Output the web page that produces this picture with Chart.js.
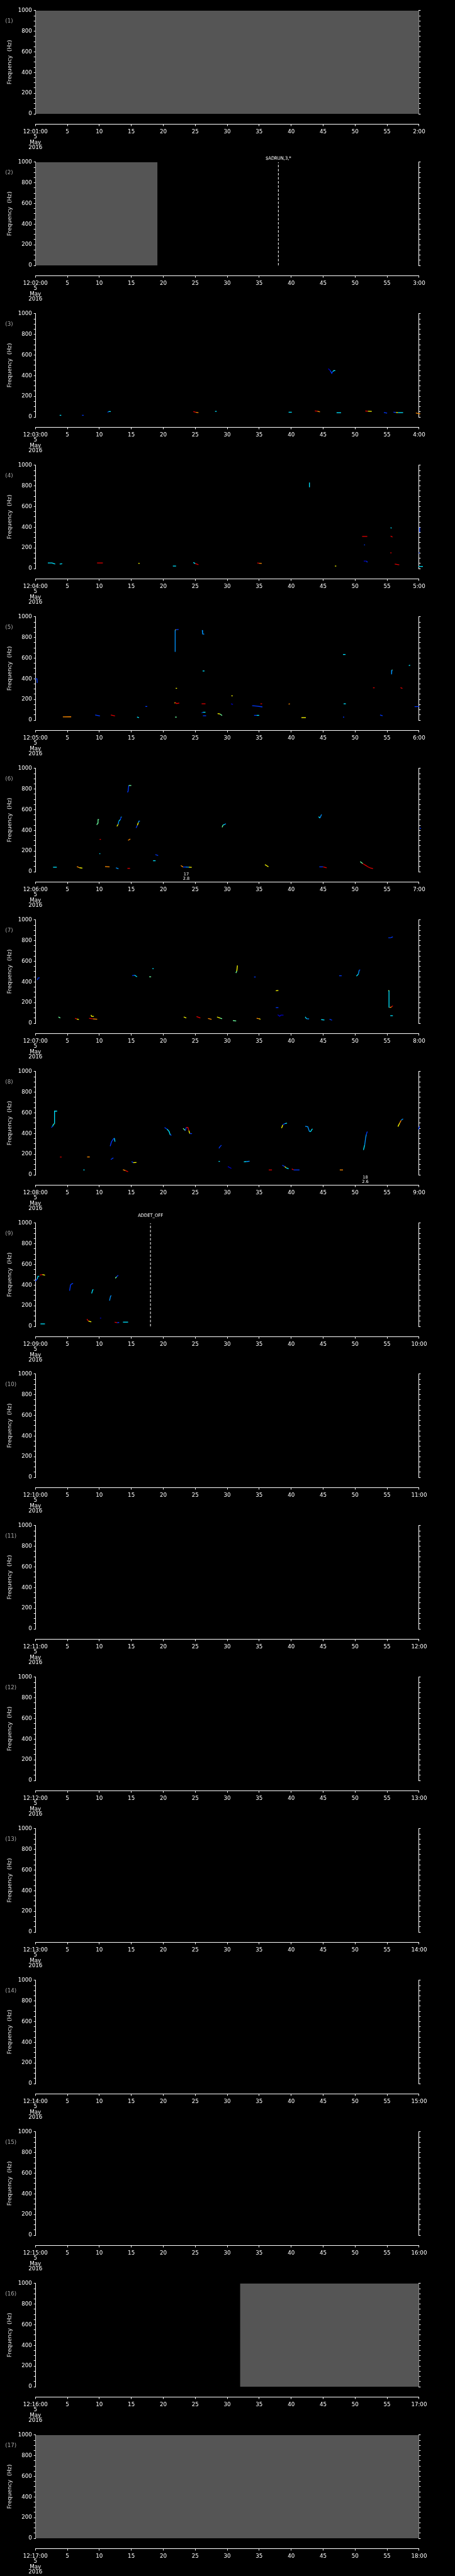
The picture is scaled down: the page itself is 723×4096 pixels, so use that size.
<!DOCTYPE html>
<html><head><meta charset="utf-8">
<script src="https://cdn.jsdelivr.net/npm/chart.js@4.4.1/dist/chart.umd.min.js"></script>
<style>
html,body{margin:0;padding:0;background:#000;width:723px;height:4096px;overflow:hidden}
.panel{position:absolute;left:0;width:723px;height:241px}
canvas{display:block}
</style></head><body>
<script>
// ---------------- DATA ----------------
const minuteTicks = [0,5,10,15,20,25,30,35,40,45,50,55,60];
const freqTicks = [0,50,100,150,200,250,300,350,400,450,500,550,600,650,700,750,800,850,900,950,1000];
const freqLabelled = [0,200,400,600,800,1000];
const startLabels = ['12:01:00','12:02:00','12:03:00','12:04:00','12:05:00','12:06:00','12:07:00','12:08:00','12:09:00','12:10:00','12:11:00','12:12:00','12:13:00','12:14:00','12:15:00','12:16:00','12:17:00'];
const endLabels = ['2:00','3:00','4:00','5:00','6:00','7:00','8:00','9:00','10:00','11:00','12:00','13:00','14:00','15:00','16:00','17:00','18:00'];
const dateLines = ['5','May','2016'];
const panelNumbers = ['(1)','(2)','(3)','(4)','(5)','(6)','(7)','(8)','(9)','(10)','(11)','(12)','(13)','(14)','(15)','(16)','(17)'];
const yTitle = 'Frequency  (Hz)';

// no-data spans: [panel, start minute, end minute]
const noDataSpans = [[1,0,60],[2,0,19.1],[16,32,60],[17,0,60]];
// dashed marker lines: [panel, minute, text]
const markerLines = [[2,38,'$ADRUN,3,*'],[9,18,'ADDET_OFF']];
// event labels: [panel, minute, line1, line2]
const eventLabels = [[6,23.6,'17','2.8'],[8,51.6,'18','2.6']];

// tracks: [colour codes per point, minute, Hz, minute, Hz, ...]
const tracks3 = [
 ['c',3.8,16,4.05,16],['b',7.3,16,7.55,16],['bcb',11.3,45,11.45,52,11.8,53],
 ['roc',24.7,52,25.1,45,25.5,42],['c',28.1,54,28.35,54],['cb',39.6,46,40.1,46],
 ['roy',43.7,59,44.1,56,44.5,50],['nbbccc',45.8,468,46.1,451,46.35,423,46.5,440,46.7,450,46.9,449],
 ['cb',47.1,41,47.8,41],['ryb',51.6,58,52.0,55,52.6,54],['b',54.5,43,55.0,37],
 ['bycc',56.0,47,56.4,44,56.7,42,57.5,42],['oc',59.5,39,60.2,29]
];
const tracks4 = [
 ['ccr',1.95,54,2.6,54,3.1,43],['cb',3.8,44,4.2,46],['ro',9.65,54,10.55,54],['y',16.1,50,16.3,50],
 ['cb',21.5,24,22.0,24],['crr',24.7,59,25.0,48,25.5,37],['rob',34.7,54,35.0,51,35.4,50],
 ['cy',42.86,834,42.86,788],['yc',46.85,24,47.05,24],['ro',51.1,311,51.9,311],['b',51.4,229,51.55,229],
 ['nbb',51.35,72,51.8,72,51.9,60],['c',55.55,397,55.7,390],['ry',55.55,315,55.85,305],['ro',55.5,152,55.7,152],
 ['rc',56.2,43,56.9,36],['b',60.1,397,60.1,354],['b',59.95,152,60.1,152],['cb',59.9,20,60.6,20]
];
const tracks5 = [
 ['bbb',0,400,0.25,400,0.3,360],['oc',4.3,31,5.6,32],['b',9.35,49,10.1,40],['rc',11.8,49,12.45,40],
 ['c',15.9,30,16.2,23],['b',17.2,132,17.5,132],['byss',22.4,878,21.95,875,21.86,872,21.86,661],
 ['y',21.95,308,22.15,308],['yrrb',21.8,162,21.85,172,22.1,160,22.5,165],['g',21.85,29,22.1,29],
 ['ssc',26.1,872,26.15,835,26.4,833],['c',26.15,476,26.45,476],['rb',26.0,158,26.6,158],
 ['bcc',26.0,70,26.2,76,26.6,76],['b',26.2,42,26.7,42],['ygc',28.5,63,28.9,58,29.2,44],
 ['y',30.65,235,30.85,235],['nr',30.6,158,30.9,152],['bbb',33.9,140,34.5,136,35.5,128],
 ['bcy',34.2,46,34.6,46,35.0,46],['r',35.2,158,35.45,158],['or',39.6,154,39.8,158],['yb',41.6,24,42.3,24],
 ['c',48.1,636,48.5,636],['cy',48.2,158,48.55,158],['b',48.1,29,48.3,29],['ry',52.8,313,53.05,313],
 ['gss',55.85,485,55.75,485,55.7,443],['b',53.9,50,54.3,42],['r',57.1,314,57.4,307],['c',58.4,528,58.6,533],
 ['bc',59.3,130,60.0,132]
];
const tracks6 = [
 ['cb',2.77,43,3.35,43],['oyb',6.5,50,6.9,38,7.35,34],['oy',10.9,50,11.6,46],['sc',12.6,37,13.0,28],
 ['ggg',9.6,453,9.75,470,9.8,505,9.95,505],['c',10.0,174,10.15,174],['r',10.05,313,10.25,313],
 ['yscbcc',12.75,439,12.95,460,13.05,490,13.3,505,13.4,530,13.5,530],['bbgg',14.4,769,14.5,780,14.6,835,15.0,835],
 ['oy',14.5,303,14.85,317],['rb',14.4,32,14.8,32],['byssb',15.75,424,15.95,450,16.1,475,16.2,490,16.35,490],
 ['cb',18.4,106,18.8,106],['by',18.75,166,19.2,156],['obsyb',22.75,59,23.1,45,23.5,45,24.0,43,24.45,42],
 ['gcss',29.2,429,29.35,452,29.6,458,29.8,465],['yo',35.9,69,36.45,47],['csn',44.3,533,44.5,519,44.75,555],
 ['brr',44.4,47,45.0,46,45.55,37],['grrrrr',50.8,97,51.2,78,51.6,63,52.0,47,52.4,35,52.8,29],['b',60.1,420,60.3,420]
];
const tracks7 = [
 ['bbb',0.3,419,0.45,440,0.68,440],['gc',3.6,61,3.9,51],['ryb',6.2,48,6.5,40,6.8,36],['yyb',8.7,80,8.8,66,9.15,66],
 ['rob',8.4,48,9.0,42,9.66,39],['bcb',15.15,461,15.5,466,15.9,449],['gy',17.8,450,18.1,450],['cg',18.3,529,18.5,529],
 ['yb',23.2,61,23.6,51],['rb',25.2,65,25.8,51],['ob',27.0,47,27.55,38],['ygb',28.4,61,28.9,50,29.2,44],
 ['gb',30.9,26,31.4,22],['gyy',31.35,487,31.5,505,31.6,560],['b',34.2,448,34.45,448],['oyb',34.6,48,35.0,43,35.2,38],
 ['yb',37.6,314,38.0,318],['b',37.6,151,38.0,151],['nnnn',37.9,82,38.2,68,38.4,78,38.8,78],
 ['csb',42.2,61,42.4,44,42.8,42],['cb',44.7,35,45.2,31],['bc',46.0,39,46.4,29],['b',47.5,460,47.9,460],
 ['csbb',50.2,456,50.5,475,50.65,516,50.8,516],['bbb',55.2,828,55.6,830,55.9,837],
 ['ycc',55.2,312,55.3,318,55.3,151],['oro',55.4,151,55.7,158,55.9,170],['c',55.5,73,55.9,73]
];
const tracks8 = [
 ['bcgccc',2.5,459,2.7,470,2.85,492,3.0,495,3.0,617,3.4,617],['rc',3.85,172,4.1,172],['c',7.5,47,7.7,47],
 ['oc',8.1,173,8.5,173],['bbbcb',11.7,277,11.9,320,12.2,348,12.35,355,12.45,320],['b',11.8,148,12.2,165],
 ['orb',13.7,50,14.1,40,14.5,30],['byc',15.05,128,15.3,118,15.8,120],['bccbb',20.2,459,20.6,442,20.9,421,21.1,385,21.3,385],
 ['gbrrybb',23.1,450,23.45,429,23.6,459,23.85,459,24.0,429,24.15,399,24.5,399],['bbb',28.7,257,28.9,275,29.1,286],
 ['c',28.65,130,28.85,130],['nr',30.1,80,30.65,62],['csb',32.6,126,33.0,128,33.5,132],['r',36.5,47,37.0,47],
 ['ybcy',38.5,453,38.7,485,39.0,496,39.35,500],['bycc',38.6,93,39.0,80,39.2,68,39.6,59],['rbb',40.1,57,40.4,47,41.3,47],
 ['sscccc',42.2,470,42.6,466,42.85,420,43.05,420,43.25,441,43.35,444],['oy',47.6,47,48.1,47],
 ['cssbb',51.3,240,51.5,290,51.65,361,51.75,390,51.9,419],['yosn',56.7,467,56.95,499,57.2,528,57.5,542],
 ['bbb',59.9,440,60.1,470,60.3,490]
];
const tracks9 = [
 ['bccc',0,438,0.3,460,0.4,485,0.6,485],['ryb',0.7,498,1.1,502,1.5,496],['c',0.8,24,1.5,24],
 ['bbbb',5.35,345,5.5,402,5.7,412,5.9,416],['ryb',8.06,70,8.3,51,8.75,44],['ccc',8.8,319,8.95,350,9.05,359],
 ['n',10.1,80,10.3,80],['sss',11.6,249,11.75,290,11.87,299],['gbb',12.5,466,12.7,480,12.95,495],
 ['rbb',12.4,41,12.8,36,13.1,38],['c',13.7,41,14.5,41]
];
const tracksByPanel = {3:tracks3,4:tracks4,5:tracks5,6:tracks6,7:tracks7,8:tracks8,9:tracks9};

// ---------------- STYLE ----------------
const colourOf = {n:'#0000c8',b:'#0038ff',s:'#0094ff',c:'#00e4ff',g:'#6cffa0',y:'#ffff00',o:'#ff8c00',r:'#e00000'};
const PANEL_H = 4096/17;
const CANVAS_H = 241;
const AREA = {left:56.2, right:665.9, top:16.9, bottom:181.0};
const AXIS_Y = 197.9;
const X_AXIS_HZ = -(AXIS_Y - AREA.bottom)/(AREA.bottom - AREA.top)*1000;
const FONT = 'DejaVu Sans';
const markerTextY = {2:11.2, 9:4.9};

const decorPlugin = {
  id:'panelDecor',
  afterDraw(chart, args, opts){
    const ctx = chart.ctx, xs = chart.scales.x;
    ctx.save();
    ctx.fillStyle = '#a8a8a8';
    ctx.font = '8.7px "'+FONT+'"';
    ctx.textAlign = 'left'; ctx.textBaseline = 'middle';
    ctx.fillText(opts.number, 8.3, 33.6);
    ctx.fillStyle = '#ffffff';
    ctx.font = '7.5px "DejaVu Sans Condensed", "'+FONT+'"';
    ctx.textAlign = 'center';
    opts.markers.forEach(m => ctx.fillText(m[2], xs.getPixelForValue(m[1]), markerTextY[opts.panel] || 11));
    ctx.font = '6.6px "'+FONT+'"';
    opts.events.forEach(e => {
      const px = xs.getPixelForValue(e[1]);
      ctx.fillText(e[2], px, 185.1);
      ctx.fillText(e[3], px, 192.1);
    });
    ctx.restore();
  }
};

for (let i = 0; i < 17; i++) {
  const n = i + 1;
  const div = document.createElement('div');
  div.className = 'panel';
  div.style.top = Math.round(i*PANEL_H) + 'px';
  const cv = document.createElement('canvas');
  cv.width = 723; cv.height = CANVAS_H;
  cv.style.width = '723px'; cv.style.height = CANVAS_H + 'px';
  div.appendChild(cv);
  document.body.appendChild(div);

  const datasets = [];
  noDataSpans.filter(s => s[0] === n).forEach(s => datasets.push({
    data:[{x:s[1],y:1000},{x:s[2],y:1000}], fill:{value:0}, backgroundColor:'#555555',
    borderWidth:0, borderColor:'rgba(0,0,0,0)', pointRadius:0
  }));
  (tracksByPanel[n] || []).forEach(t => {
    const cols = t[0];
    const pts = [];
    for (let k = 1; k < t.length; k += 2) pts.push({x:t[k], y:t[k+1]});
    datasets.push({
      data:pts, borderColor:colourOf[cols[0]], borderWidth:1.3, pointRadius:0, fill:false, clip:false,
      segment:{borderColor: c => colourOf[cols[Math.min(c.p0DataIndex, cols.length-1)]]}
    });
  });
  markerLines.filter(m => m[0] === n).forEach(m => datasets.push({
    data:[{x:m[1],y:0},{x:m[1],y:1000}], borderColor:'#ffffff', borderWidth:1,
    borderDash:[4,2.5], pointRadius:0, fill:false
  }));

  new Chart(cv, {
    type:'line',
    data:{datasets},
    plugins:[decorPlugin],
    options:{
      responsive:false, animation:false, devicePixelRatio:1,
      events:[],
      layout:{padding:{top:AREA.top, left:0, right:723 - AREA.right - 4, bottom:CANVAS_H - AREA.bottom}},
      plugins:{
        legend:{display:false}, tooltip:{enabled:false},
        panelDecor:{
          panel:n, number:panelNumbers[i],
          markers:markerLines.filter(m => m[0] === n),
          events:eventLabels.filter(e => e[0] === n)
        }
      },
      scales:{
        x:{
          type:'linear', min:0, max:60, position:{y:X_AXIS_HZ},
          afterBuildTicks: s => { s.ticks = minuteTicks.map(v => ({value:v})); },
          ticks:{
            autoSkip:false, maxRotation:0, minRotation:0, color:'#ffffff', padding:5.4,
            font:{family:FONT, size:8.7, lineHeight:0.95},
            callback: v => v === 0 ? [startLabels[i]].concat(dateLines) : (v === 60 ? endLabels[i] : String(v))
          },
          grid:{drawOnChartArea:false, drawTicks:true, tickLength:2.5, color:'#ffffff', lineWidth:1},
          border:{display:true, color:'#ffffff', width:1}
        },
        y:{
          type:'linear', min:0, max:1000, position:'left',
          afterBuildTicks: s => { s.ticks = freqTicks.map(v => ({value:v})); },
          afterFit: s => { s.width = AREA.left; },
          ticks:{
            color:'#ffffff', padding:2.9, autoSkip:false,
            font:{family:FONT, size:8.7},
            callback: v => freqLabelled.includes(v) ? String(v) : ''
          },
          grid:{drawOnChartArea:false, tickLength:2.5, color:'#ffffff', lineWidth:1},
          border:{display:true, color:'#ffffff', width:1},
          title:{display:true, text:yTitle, color:'#e6e6e6', font:{family:FONT, size:9}, padding:{top:10.7, bottom:0}}
        },
        y2:{
          type:'linear', min:0, max:1000, position:'right',
          afterBuildTicks: s => { s.ticks = freqTicks.map(v => ({value:v})); },
          afterFit: s => { s.width = 4; },
          ticks:{display:false},
          grid:{drawOnChartArea:false, tickLength:2.5, color:'#ffffff', lineWidth:1},
          border:{display:true, color:'#ffffff', width:1}
        }
      }
    }
  });
}
</script>
</body></html>
